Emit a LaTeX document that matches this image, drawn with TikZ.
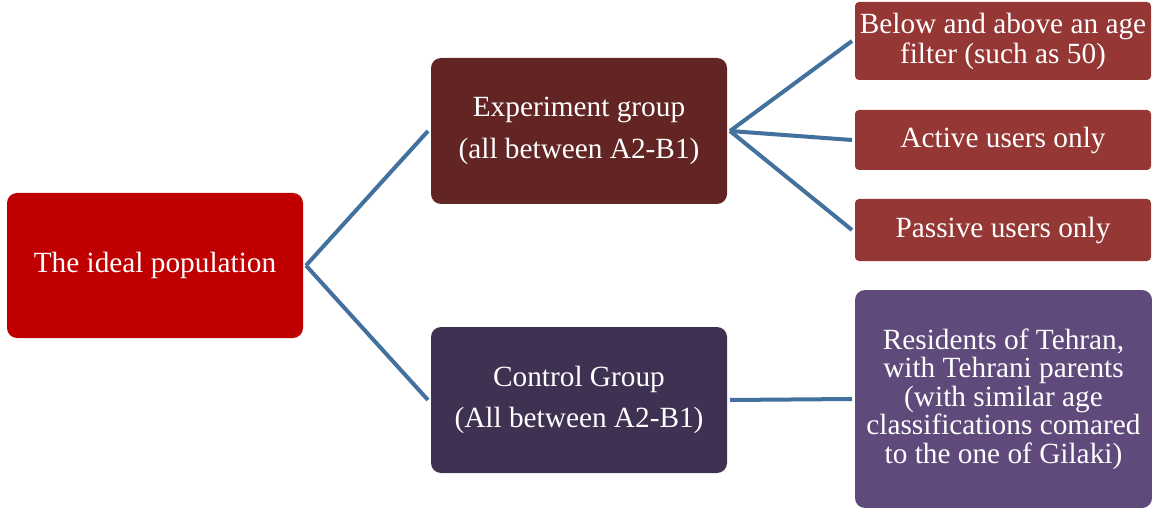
\documentclass[tikz,border=0pt]{standalone}
\usepackage{fontspec}
\setmainfont{Liberation Serif}
\begin{document}
\begin{tikzpicture}[x=1pt,y=-1pt,
  box/.style={rectangle, rounded corners=10pt, draw=none, text=white, align=center,
    inner sep=0pt, outer sep=3pt, font=\fontsize{29.3}{42}\selectfont},
  leaf/.style={box, rounded corners=4pt, fill=leafred, minimum width=296pt},
  conn/.style={draw=connblue, line width=4pt}]
\definecolor{rootred}{HTML}{C00000}
\definecolor{exbrown}{HTML}{632523}
\definecolor{ctrlpurple}{HTML}{3F3151}
\definecolor{leafred}{HTML}{953735}
\definecolor{respurple}{HTML}{604A7B}
\definecolor{connblue}{HTML}{41719C}
\useasboundingbox (0,0) rectangle (1152,508);
% first level
\node[box, fill=rootred, minimum width=296pt, minimum height=145pt] (root) at (155,265.5) {The ideal population};
% second level
\node[box, fill=exbrown, minimum width=296pt, minimum height=146pt] (exp) at (579,131) {Experiment group\\(all between A2-B1)};
\node[box, fill=ctrlpurple, minimum width=296pt, minimum height=146pt,
  font=\fontsize{29.3}{41}\selectfont] (ctrl) at (579,400) {Control Group\\(All between A2-B1)};
% third level
\node[leaf, minimum height=78pt, font=\fontsize{29.3}{30}\selectfont] (age) at (1003,41) {Below and above an age\\filter (such as 50)};
\node[leaf, minimum height=60pt] (active) at (1003,140) {Active users only};
\node[leaf, minimum height=62pt] (passive) at (1003,230) {Passive users only};
\node[box, fill=respurple, minimum width=297pt, minimum height=218pt,
  font=\fontsize{29.3}{28.5}\selectfont] (res) at (1003.5,399) {Residents of Tehran,\\with Tehrani parents\\(with similar age\\classifications comared\\to the one of Gilaki)};
% connectors
\draw[conn] (root.east) -- (exp.west);
\draw[conn] (root.east) -- (ctrl.west);
\draw[conn] (exp.east) -- (age.west);
\draw[conn] (exp.east) -- (active.west);
\draw[conn] (exp.east) -- (passive.west);
\draw[conn] (ctrl.east) -- (res.west);
\end{tikzpicture}
\end{document}
